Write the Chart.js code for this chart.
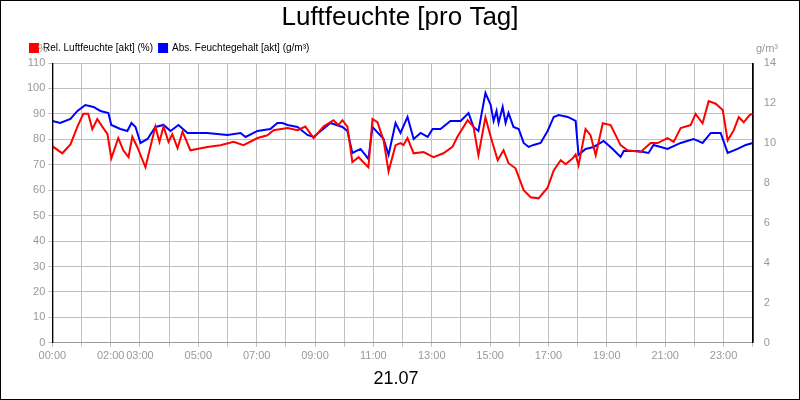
<!DOCTYPE html>
<html><head><meta charset="utf-8">
<script src="https://cdn.jsdelivr.net/npm/chart.js@4/dist/chart.umd.min.js"></script>
<style>body{margin:0;background:#fff}#wrap{width:798px;height:398px;border:1px solid #000}</style>
</head><body><div id="wrap"><canvas id="c" width="798" height="398"></canvas></div>
<script>
// Relative humidity (%), time in hours
const relHours = [0,0.34,0.62,0.86,1.06,1.23,1.37,1.54,1.71,1.89,2.02,2.26,2.43,2.61,2.74,2.91,3.19,3.53,3.67,3.81,3.98,4.11,4.29,4.46,4.73,5.31,5.76,6.21,6.55,7.03,7.37,7.58,8.06,8.40,8.67,8.95,9.29,9.63,9.80,9.94,10.11,10.28,10.49,10.66,10.83,10.97,11.14,11.35,11.52,11.76,11.93,12.03,12.17,12.38,12.72,13.06,13.40,13.71,13.88,14.23,14.43,14.60,14.84,15.02,15.26,15.46,15.63,15.87,16.15,16.39,16.66,16.97,17.18,17.42,17.59,17.83,17.93,18.03,18.27,18.44,18.62,18.86,19.13,19.47,19.71,20.16,20.50,20.74,21.08,21.29,21.53,21.87,22.04,22.28,22.49,22.73,22.97,23.14,23.35,23.52,23.69,23.89,24];
const relValues = [77.3,74.5,78,85,90,90,84,88,85,82,72.5,80.5,75.7,73,81,77,69,85,79,85,79,82,76.5,83,75.7,77,77.7,79,77.7,80.5,81.6,83.6,84.4,83.6,85,80.5,85,87.5,85.6,87.5,85,71,73,71,69,88,86.7,79.6,67.4,77.7,78.5,77.7,80.5,74.5,75,73,74.5,77,81,87.5,85,73.7,88.7,81,71.8,75.7,70.6,68.6,60,57.2,56.8,61,67.8,71.8,70.2,72.5,74,69.8,84,81.6,73.7,86.3,85.6,77.7,75.7,75,78.5,78.5,80.5,79,84.4,85.6,90,86.3,95,94,91.5,79.6,83.6,88.7,86.7,89.5,90];
// Absolute humidity (g/m³)
const absHours = [0,0.27,0.62,0.86,1.13,1.41,1.65,1.92,2.02,2.33,2.57,2.71,2.85,3.02,3.26,3.53,3.81,4.05,4.32,4.63,5.31,6.0,6.45,6.62,7.03,7.47,7.71,7.88,8.06,8.40,8.74,8.95,9.53,9.94,10.11,10.28,10.56,10.83,10.97,11.35,11.52,11.76,11.93,12.17,12.38,12.62,12.86,13.03,13.30,13.64,13.99,14.26,14.43,14.60,14.84,15.02,15.12,15.22,15.29,15.43,15.53,15.63,15.80,15.98,16.15,16.32,16.49,16.73,16.97,17.18,17.35,17.66,17.93,18.03,18.27,18.55,18.89,19.20,19.47,19.58,20.06,20.43,20.60,21.08,21.53,21.97,22.28,22.56,22.90,23.14,23.48,23.76,24];
const absValues = [11.1,11.0,11.2,11.6,11.9,11.8,11.6,11.5,10.9,10.7,10.6,11.0,10.8,10.0,10.2,10.8,10.9,10.6,10.9,10.5,10.5,10.4,10.5,10.3,10.6,10.7,11.0,11.0,10.9,10.8,10.4,10.3,11.0,10.8,10.6,9.5,9.7,9.2,10.8,10.2,9.4,11.0,10.5,11.3,10.2,10.5,10.3,10.7,10.7,11.1,11.1,11.5,10.8,10.6,12.5,11.9,11.1,11.6,11.0,11.8,11.0,11.5,10.8,10.7,10.0,9.8,9.9,10.0,10.6,11.3,11.4,11.3,11.1,9.4,9.7,9.8,10.1,9.7,9.3,9.6,9.6,9.5,9.9,9.7,10.0,10.2,10.0,10.5,10.5,9.5,9.7,9.9,10.0];
const labelHours = [0,2,3,5,7,9,11,13,15,17,19,21,23];

const pts = (h, v) => h.map((x, i) => ({x: x, y: v[i]}));
const grey = '#999';
const fam = '"Liberation Sans", "DejaVu Sans", sans-serif';

const extras = {
  id: 'extras',
  afterDraw(chart) {
    const c = chart.ctx, a = chart.chartArea;
    c.save();
    c.fillStyle = '#000';
    c.font = '26px ' + fam;
    c.textAlign = 'center';
    c.textBaseline = 'middle';
    c.fillText('Luftfeuchte [pro Tag]', 399, 17);
    c.font = '18px ' + fam;
    c.fillText('21.07', 395, 378);
    c.fillStyle = grey;
    c.font = '11px ' + fam;
    c.fillText('%', 42, 48);
    c.fillText('g/m³', 766, 48);
    c.strokeStyle = '#000';
    c.lineWidth = 1;
    c.beginPath();
    c.moveTo(a.left + 0.5, a.top); c.lineTo(a.left + 0.5, a.bottom);
    c.moveTo(a.right + 0.5, a.top); c.lineTo(a.right + 0.5, a.bottom);
    c.stroke();
    c.restore();
  }
};

new Chart(document.getElementById('c'), {
  type: 'line',
  data: {
    datasets: [
      {label: 'Rel. Luftfeuchte [akt] (%)', data: pts(relHours, relValues), borderColor: '#ff0000', backgroundColor: '#ff0000', yAxisID: 'y', borderWidth: 2, pointRadius: 0, tension: 0},
      {label: 'Abs. Feuchtegehalt [akt] (g/m³)', data: pts(absHours, absValues), borderColor: '#0000ff', backgroundColor: '#0000ff', yAxisID: 'y2', borderWidth: 2, pointRadius: 0, tension: 0}
    ]
  },
  plugins: [extras],
  options: {
    responsive: false, animation: false,
    layout: {padding: {top: 36, left: 23, right: 20, bottom: 33}},
    plugins: {
      legend: {align: 'start', labels: {boxWidth: 8, boxHeight: 8, color: '#000', font: {size: 10, family: fam}, padding: 6}},
      tooltip: {enabled: false}
    },
    scales: {
      x: {type: 'linear', min: 0, max: 24,
        ticks: {stepSize: 1, autoSkip: false, maxRotation: 0, color: grey, font: {size: 11, family: fam},
          callback: v => labelHours.includes(v) ? String(v).padStart(2, '0') + ':00' : ''},
        grid: {color: '#c0c0c0', drawTicks: true, tickLength: 4}, border: {color: grey}},
      y: {position: 'left', min: 0, max: 110,
        ticks: {stepSize: 10, color: grey, font: {size: 11, family: fam}},
        grid: {color: '#c0c0c0', tickLength: 4}, border: {color: '#000'}},
      y2: {position: 'right', min: 0, max: 14,
        ticks: {stepSize: 2, color: grey, font: {size: 11, family: fam}},
        grid: {display: false}, border: {color: '#000'}}
    }
  }
});
</script></body></html>
